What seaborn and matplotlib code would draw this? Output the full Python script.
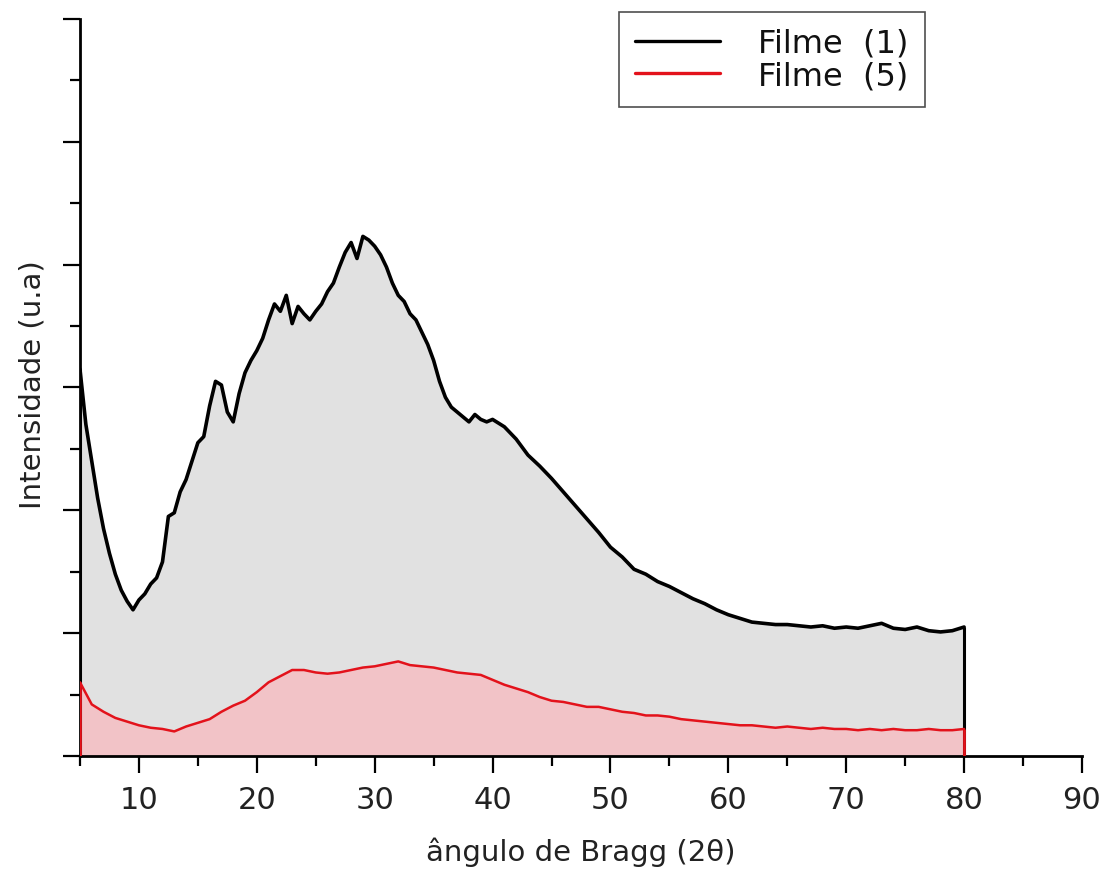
import numpy as np
import pandas as pd
import matplotlib
matplotlib.use("Agg")
import matplotlib.pyplot as plt
from matplotlib.ticker import MultipleLocator
from matplotlib.lines import Line2D
import seaborn as sns

# ---- data (intensity in arbitrary units) ----
x_f1 = [5.0, 5.5, 6.0, 6.5, 7.0, 7.5, 8.0, 8.5, 9.0, 9.5,
        10.0, 10.5, 11.0, 11.5, 12.0, 12.5, 13.0, 13.5, 14.0, 14.5,
        15.0, 15.5, 16.0, 16.5, 17.0, 17.5, 18.0, 18.5, 19.0, 19.5,
        20.0, 20.5, 21.0, 21.5, 22.0, 22.5, 23.0, 23.5, 24.0, 24.5,
        25.0, 25.5, 26.0, 26.5, 27.0, 27.5, 28.0, 28.5, 29.0, 29.5,
        30.0, 30.5, 31.0, 31.5, 32.0, 32.5, 33.0, 33.5, 34.0, 34.5,
        35.0, 35.5, 36.0, 36.5, 37.0, 37.5, 38.0, 38.5, 39.0, 39.5,
        40, 41, 42, 43, 44, 45, 46, 47, 48, 49,
        50, 51, 52, 53, 54, 55, 56, 57, 58, 59,
        60, 61, 62, 63, 64, 65, 66, 67, 68, 69,
        70, 71, 72, 73, 74, 75, 76, 77, 78, 79, 80]
y_f1 = [3.15, 2.70, 2.40, 2.10, 1.85, 1.65, 1.48, 1.35, 1.26, 1.19,
        1.27, 1.32, 1.40, 1.45, 1.58, 1.95, 1.98, 2.15, 2.25, 2.40,
        2.55, 2.60, 2.85, 3.05, 3.02, 2.80, 2.72, 2.95, 3.12, 3.22,
        3.30, 3.40, 3.55, 3.68, 3.62, 3.75, 3.52, 3.66, 3.60, 3.55,
        3.62, 3.68, 3.78, 3.85, 3.98, 4.10, 4.18, 4.05, 4.23, 4.20,
        4.15, 4.08, 3.98, 3.85, 3.75, 3.70, 3.60, 3.55, 3.45, 3.35,
        3.22, 3.05, 2.92, 2.84, 2.80, 2.76, 2.72, 2.78, 2.74, 2.72,
        2.74, 2.68, 2.58, 2.45, 2.36, 2.26, 2.15, 2.04, 1.93, 1.82,
        1.70, 1.62, 1.52, 1.48, 1.42, 1.38, 1.33, 1.28, 1.24, 1.19,
        1.15, 1.12, 1.09, 1.08, 1.07, 1.07, 1.06, 1.05, 1.06, 1.04,
        1.05, 1.04, 1.06, 1.08, 1.04, 1.03, 1.05, 1.02, 1.01, 1.02, 1.05]

x_f5 = list(range(5, 81))
y_f5 = [0.60, 0.42, 0.36, 0.31, 0.28, 0.25, 0.23, 0.22, 0.20, 0.24,
        0.27, 0.30, 0.36, 0.41, 0.45, 0.52, 0.60, 0.65, 0.70, 0.70,
        0.68, 0.67, 0.68, 0.70, 0.72, 0.73, 0.75, 0.77, 0.74, 0.73,
        0.72, 0.70, 0.68, 0.67, 0.66, 0.62, 0.58, 0.55, 0.52, 0.48,
        0.45, 0.44, 0.42, 0.40, 0.40, 0.38, 0.36, 0.35, 0.33, 0.33,
        0.32, 0.30, 0.29, 0.28, 0.27, 0.26, 0.25, 0.25, 0.24, 0.23,
        0.24, 0.23, 0.22, 0.23, 0.22, 0.22, 0.21, 0.22, 0.21, 0.22,
        0.21, 0.21, 0.22, 0.21, 0.21, 0.22]

labels = ["Filme  (1)", "Filme  (5)"]
line_colors = ["#000000", "#e3121b"]
fill_colors = ["#e1e1e1", "#f2c3c7"]
x_ticks = [10, 20, 30, 40, 50, 60, 70, 80, 90]

sns.set_theme(style="ticks")
plt.rcParams["font.family"] = ["DejaVu Sans"]

fig = plt.figure(figsize=(11.06, 8.79), dpi=100)
ax = fig.add_axes([0.0723, 0.1388, 0.9060, 0.8385])

df1 = pd.DataFrame({"x": x_f1, "y": y_f1})
df5 = pd.DataFrame({"x": x_f5, "y": y_f5})

ax.fill_between(df1["x"], 0, df1["y"], color=fill_colors[0], lw=0, zorder=1)
ax.fill_between(df5["x"], 0, df5["y"], color=fill_colors[1], lw=0, zorder=2)
sns.lineplot(data=df1, x="x", y="y", ax=ax, color=line_colors[0], lw=2.6,
             zorder=3, legend=False)
ax.vlines([x_f1[0], x_f1[-1]], 0, [y_f1[0], y_f1[-1]], color=line_colors[0], lw=2.2, zorder=3)
sns.lineplot(data=df5, x="x", y="y", ax=ax, color=line_colors[1], lw=1.8,
             zorder=4, legend=False)
ax.vlines([x_f5[0], x_f5[-1]], 0, [y_f5[0], y_f5[-1]], color=line_colors[1], lw=2.0, zorder=4)

ax.set_xlim(5, 90)
ax.set_ylim(0, 6)
ax.set_xticks(x_ticks)
ax.xaxis.set_minor_locator(MultipleLocator(5))
ax.yaxis.set_major_locator(MultipleLocator(1))
ax.yaxis.set_minor_locator(MultipleLocator(0.5))
ax.set_yticklabels([])
ax.tick_params(axis="both", which="major", direction="out", length=12, width=1.6,
               color="black", labelsize=22, labelcolor="#222222", pad=9)
ax.tick_params(axis="both", which="minor", direction="out", length=7, width=1.6, color="black")

sns.despine(ax=ax)
for s in ["left", "bottom"]:
    ax.spines[s].set_linewidth(2.0)
    ax.spines[s].set_color("black")

ax.set_xlabel("ângulo de Bragg (2θ)", fontsize=21, color="#222222", labelpad=16)
ax.set_ylabel("Intensidade (u.a)", fontsize=21, color="#222222")
ax.yaxis.set_label_coords(-0.033, 0.505)
ax.grid(False)

handles = [Line2D([0], [0], color=line_colors[0], lw=2.4),
           Line2D([0], [0], color=line_colors[1], lw=2.4)]
leg = ax.legend(handles, labels, loc="upper right", bbox_to_anchor=(0.843, 1.0095),
                fontsize=23, frameon=True, fancybox=False, edgecolor="#222222",
                handlelength=2.65, handletextpad=1.2, borderpad=0.5,
                labelspacing=0.05, borderaxespad=0)
leg.get_frame().set_linewidth(1.2)
for t in leg.get_texts():
    t.set_color("#111111")

fig.savefig("out.png", dpi=100, facecolor="white")
